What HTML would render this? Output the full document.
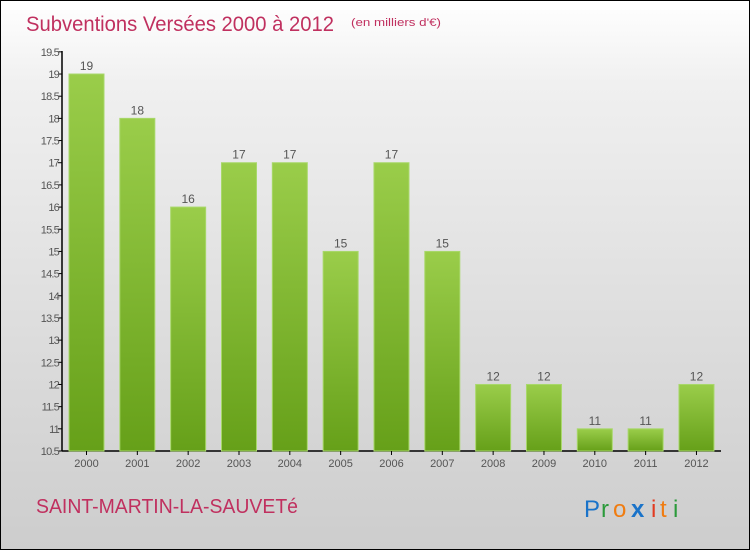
<!DOCTYPE html>
<html><head><meta charset="utf-8"><style>
body{margin:0}
#c{position:relative;width:748px;height:548px;border:1px solid #000;background:linear-gradient(#fff,#f0f0f0 15%,#d9d9d9 70%,#cdcdcd);font-family:"Liberation Sans",sans-serif;overflow:hidden}
</style></head><body>
<div id="c">
<svg width="748" height="548" id="s">
<defs><linearGradient id="g" x1="0" y1="0" x2="0" y2="1"><stop offset="0" stop-color="#9acd4a"/><stop offset="1" stop-color="#66a019"/></linearGradient></defs>
<text x="25" y="30" font-size="21" fill="#c0305f" textLength="308" lengthAdjust="spacingAndGlyphs">Subventions Versées 2000 à 2012</text>
<text x="350" y="25" font-size="11" fill="#c0305f" textLength="90" lengthAdjust="spacingAndGlyphs">(en milliers d'€)</text>
<text x="35" y="512" font-size="20" fill="#c0305f" textLength="262" lengthAdjust="spacingAndGlyphs">SAINT-MARTIN-LA-SAUVETé</text>
<g font-size="24"><text x="583" y="516" fill="#1a73c9">P</text><text x="600" y="516" fill="#2a9a3a">r</text><text x="612" y="516" fill="#f07c10">o</text><text x="630" y="516" fill="#1a73c9" font-weight="bold">x</text><text x="650" y="516" fill="#e23a20">i</text><text x="659" y="516" fill="#f07c10">t</text><text x="672" y="516" fill="#2a9a3a">i</text></g>
<g id="plot"></g>
</svg></div>
<script>
const years=["2000","2001","2002","2003","2004","2005","2006","2007","2008","2009","2010","2011","2012"];
const values=[19,18,16,17,17,15,17,15,12,12,11,11,12];
const ticks=[10.5,11,11.5,12,12.5,13,13.5,14,14.5,15,15.5,16,16.5,17,17.5,18,18.5,19,19.5];
const NS="http://www.w3.org/2000/svg",p=document.getElementById('plot');
const y=v=>450-(v-10.5)*44.35, x=i=>68+i*50.83;
function mk(t,a,txt){const e=document.createElementNS(NS,t);for(const k in a)e.setAttribute(k,a[k]);if(txt!=null)e.textContent=txt;p.appendChild(e);return e;}
let ax=mk('line',{x1:61,y1:50,x2:61,y2:450,stroke:'#000','stroke-width':1.5});


let bx=mk('line',{x1:61,y1:450,x2:720,y2:450,stroke:'#000','stroke-width':1.5});


ticks.forEach(t=>{const yy=y(t);
 let l=mk('line',{x1:57,y1:yy,x2:61,y2:yy,stroke:'#000'});
 
 
 let tx=mk('text',{x:58,y:yy+4,'font-size':11,'text-anchor':'end',fill:'#555','letter-spacing':'-0.8'},String(t));
 
 
});
values.forEach((v,i)=>{const xx=x(i),yy=y(v);
 let r=mk('rect',{x:xx,y:yy,width:35,height:450-yy,fill:'url(#g)',stroke:'#a8d86a','stroke-width':1});
 
 
 let lb=mk('text',{x:xx+17.5,y:yy-4,'font-size':12,'text-anchor':'middle',fill:'#555'},String(v));
 
 
 let xl=mk('text',{x:xx+17.5,y:466,'font-size':11,'text-anchor':'middle',fill:'#555'},years[i]);
 
 
 let tk=mk('line',{x1:xx+17.5,y1:450,x2:xx+17.5,y2:454,stroke:'#000'});
 
 
});
</script>
</body></html>
